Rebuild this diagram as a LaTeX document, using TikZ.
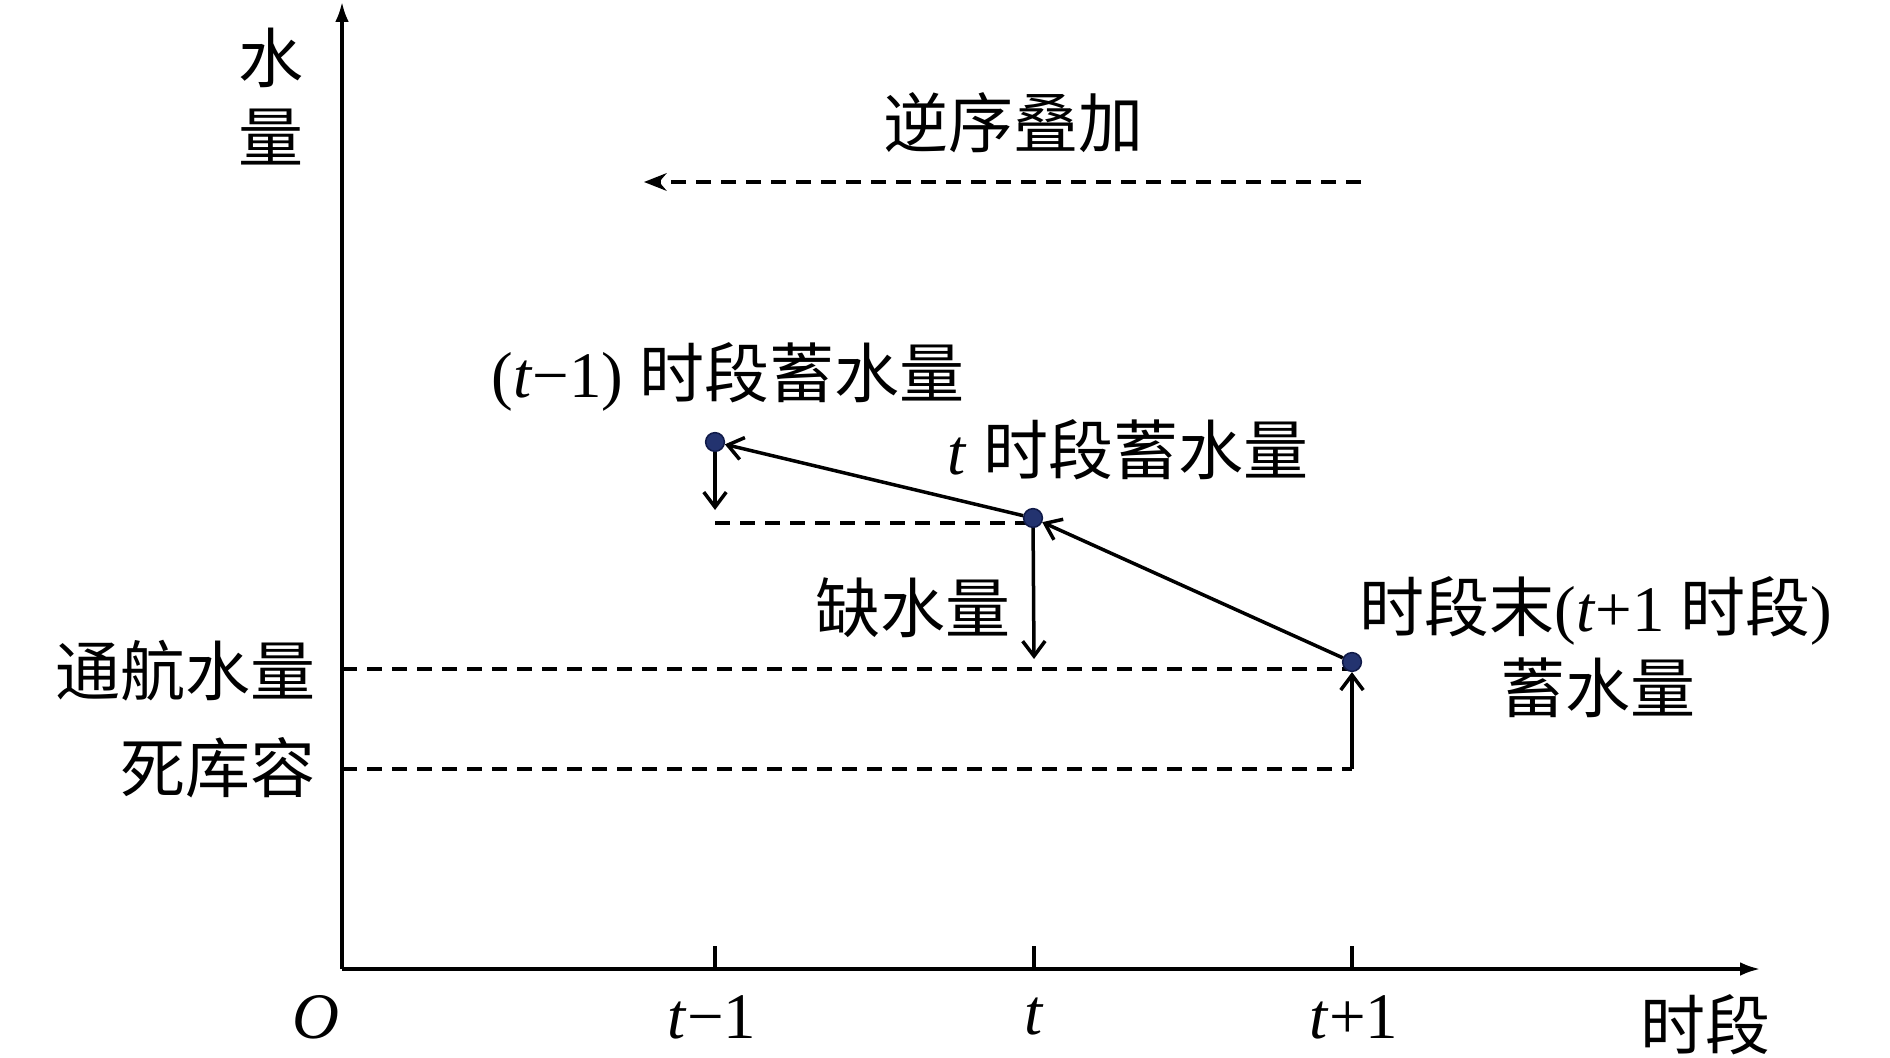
\documentclass[tikz,border=0pt]{standalone}
\usepackage{fontspec}
\setmainfont{Liberation Serif}
\newfontfamily\cjk{Noto Sans CJK SC}
\usetikzlibrary{arrows.meta}
\definecolor{dotfill}{HTML}{23336F}
\definecolor{dotline}{HTML}{101A48}
\tikzset{
  lbl/.style={inner sep=0pt, font=\fontsize{26pt}{30pt}\selectfont},
  axis/.style={line width=1.25pt},
  axisarrow/.style={axis, -{Latex[length=8pt,width=5.5pt]}},
  dashline/.style={line width=1.6pt, dash pattern=on 6pt off 4pt},
  openarrow/.style={line width=1.4pt, -{Straight Barb[length=6pt,width=9pt,line width=1.4pt]}},
  dotnode/.style={circle, fill=dotfill, draw=dotline, line width=0.6pt, minimum size=7.5pt, inner sep=0pt},
}
\begin{document}
\begin{tikzpicture}[x=0.4pt,y=-0.4pt]
\useasboundingbox (0,0) rectangle (1890,1058);
% axes
\coordinate (O) at (342,969);
\coordinate (ytop) at (342,2);
\coordinate (xend) at (1760,969);
\draw[axisarrow] (O) -- (ytop);
\draw[axisarrow] (O) -- (xend);
% ticks
\coordinate (k1) at (715,969); \coordinate (k1t) at (715,946);
\coordinate (k2) at (1034,969); \coordinate (k2t) at (1034,946);
\coordinate (k3) at (1352,969); \coordinate (k3t) at (1352,946);
\draw[axis] (k1) -- (k1t);
\draw[axis] (k2) -- (k2t);
\draw[axis] (k3) -- (k3t);
% reverse-order dashed arrow
\coordinate (ra) at (1361,182);
\coordinate (rb) at (644,182);
\draw[dashline, -{Stealth[length=9pt,width=7pt]}] (ra) -- (rb);
% horizontal dashed levels
\coordinate (nav1) at (342,669); \coordinate (nav2) at (1352,669);
\coordinate (dead1) at (342,769); \coordinate (dead2) at (1352,769);
\coordinate (lev1) at (715,523); \coordinate (lev2) at (1030,523);
\draw[dashline] (nav1) -- (nav2);
\draw[dashline] (dead1) -- (dead2);
\draw[dashline] (lev1) -- (lev2);
% points
\node[dotnode] (p1) at (715,442) {};
\node[dotnode] (p2) at (1033,518) {};
\node[dotnode] (p3) at (1352,662) {};
% connectors
\draw[openarrow] (p3) -- (p2);
\draw[openarrow] (p2) -- (p1);
\coordinate (a1) at (715,510);
\coordinate (a2) at (1034,659);
\coordinate (a3) at (1352,769);
\draw[openarrow] (p1) -- (a1);
\draw[openarrow] (p2) -- (a2);
\draw[openarrow] (a3) -- (p3);
% labels
\node[lbl] (ylab1) at (271,58) {\cjk 水};
\node[lbl] (ylab2) at (271,137) {\cjk 量};
\node[lbl] (rev) at (1013,123) {\cjk 逆序叠加};
\node[lbl] (l1) at (728,377) {(\textit{t}−1) {\cjk 时段蓄水量}};
\node[lbl] (l2) at (1128,450) {\textit{t} {\cjk 时段蓄水量}};
\node[lbl] (l3) at (913,608) {\cjk 缺水量};
\node[lbl, anchor=east] (l4) at (316,671) {\cjk 通航水量};
\node[lbl, anchor=east] (l5) at (316,768) {\cjk 死库容};
\node[lbl] (l6) at (1596,611) {{\cjk 时段末}(\textit{t}+1 {\cjk 时段})};
\node[lbl] (l7) at (1598,688) {\cjk 蓄水量};
\node[lbl] (xo) at (316,1017) {\textit{O}};
\node[lbl] (x1) at (712,1017) {\textit{t}−1};
\node[lbl] (x2) at (1034,1017) {\textit{t}};
\node[lbl] (x3) at (1354,1017) {\textit{t}+1};
\node[lbl] (xlab) at (1705,1025) {\cjk 时段};
\end{tikzpicture}
\end{document}
